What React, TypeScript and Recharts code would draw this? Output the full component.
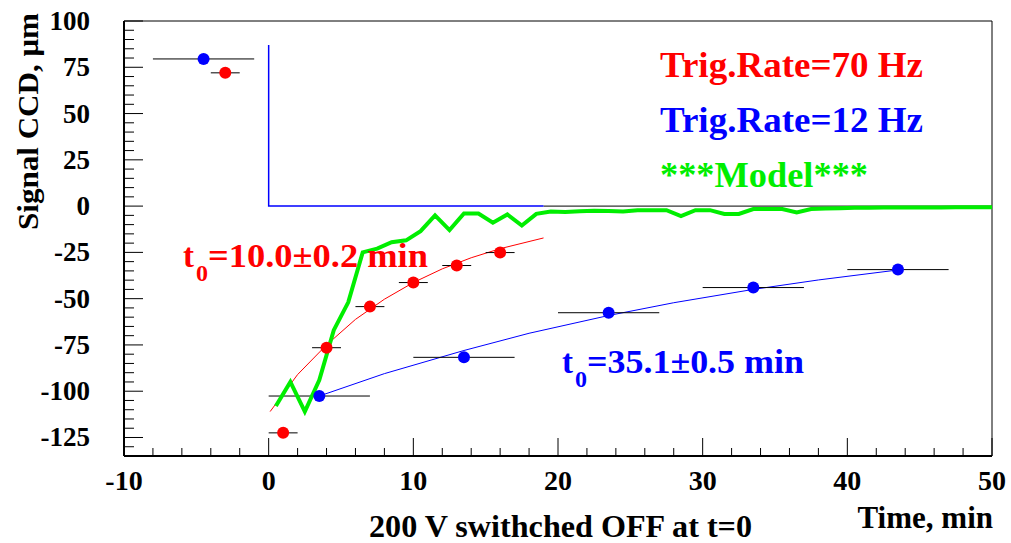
import { ComposedChart, XAxis, YAxis, Line, Scatter, ErrorBar, ReferenceArea } from 'recharts'

// measured points, 70 Hz trigger rate
const redTime = [-3, 1, 4, 7, 10, 13, 16]
const redSignal = [72, -122.5, -76.5, -54.3, -41.3, -32.1, -25.1]
const redTimeErr = [1, 1, 1, 1, 1, 1, 1]

// measured points, 12 Hz trigger rate
const blueTime = [-4.5, 3.5, 13.5, 23.5, 33.5, 43.5]
const blueSignal = [79.5, -102.6, -81.7, -57.6, -44, -34.3]
const blueTimeErr = [3.5, 3.5, 3.5, 3.5, 3.5, 3.5]

// exponential fits
const redFitTime = [0.1, 2, 4, 6, 8, 10, 12, 14, 16, 19]
const redFitSignal = [-111, -91, -75, -61.2, -50.3, -41.3, -33.9, -27.9, -23, -17.2]
const blueFitTime = [3.5, 8, 13.5, 18, 23.5, 28, 33.5, 38, 43.5]
const blueFitSignal = [-102.6, -90.5, -78, -68.7, -59.1, -52.2, -45, -39.9, -34.5]

// model curve
const modelTime = [
  0.5, 1.5, 2.5, 3.5, 4.5, 5.5, 6.5, 7.5, 8.5, 9.5, 10.5, 11.5, 12.5, 13.5, 14.5, 15.5, 16.5,
  17.5, 18.5, 19.5, 20.5, 21.5, 22.5, 23.5, 24.5, 25.5, 26.5, 27.5, 28.5, 29.5, 30.5, 31.5,
  32.5, 33.5, 34.5, 35.5, 36.5, 37.5, 38.5, 39.5, 40.5, 41.5, 42.5, 43.5, 44.5, 45.5, 46.5,
  47.5, 48.5, 49.5, 50,
]
const modelSignal = [
  -108, -95, -111, -94, -67, -52, -25, -23, -19.5, -18.5, -13.5, -5, -13, -4, -4, -9, -4.5,
  -10.5, -4.2, -2.9, -3.2, -2.8, -2.5, -2.6, -2.9, -2.3, -2.2, -2.2, -5.4, -2.2, -2.2, -4.2,
  -4.2, -1.6, -1.6, -1.6, -3.4, -1.6, -1.3, -1.1, -0.9, -0.9, -0.8, -0.8, -0.8, -0.7, -0.7,
  -0.6, -0.6, -0.6, -0.6,
]

// voltage step and zero level
const stepTime = [0, 0, 19]
const stepSignal = [87, 0, 0]
const zeroTime = [19, 50]
const zeroSignal = [0, 0]

const xTicks = [-10, -8, -6, -4, -2, 0, 2, 4, 6, 8, 10, 12, 14, 16, 18, 20, 22, 24, 26, 28, 30, 32, 34, 36, 38, 40, 42, 44, 46, 48, 50]
const yTicks = [-130, -125, -120, -115, -110, -105, -100, -95, -90, -85, -80, -75, -70, -65, -60, -55, -50, -45, -40, -35, -30, -25, -20, -15, -10, -5, 0, 5, 10, 15, 20, 25, 30, 35, 40, 45, 50, 55, 60, 65, 70, 75, 80, 85, 90, 95, 100]

const pts = (xs: number[], ys: number[]) => xs.map((x, i) => ({ x, y: ys[i] }))
const redData = redTime.map((x, i) => ({ x, y: redSignal[i], xe: redTimeErr[i] }))
const blueData = blueTime.map((x, i) => ({ x, y: blueSignal[i], xe: blueTimeErr[i] }))

const FONT = '"Liberation Serif", "Times New Roman", serif'
const txt = { fontFamily: FONT, fontWeight: 700 }
const RED = '#ff0000'
const BLUE = '#0000ff'
const GREEN = '#00ee00'

function XTick({ x, y, payload }: any) {
  const v = payload.value
  const major = v % 10 === 0
  return (
    <g>
      <line x1={x} x2={x} y1={y} y2={y - (major ? 18 : 8)} stroke="#000" strokeWidth={1} />
      {major && (
        <text x={x} y={y + 34} textAnchor="middle" style={{ ...txt, fontSize: 28 }} fill="#000">
          {v}
        </text>
      )}
    </g>
  )
}

function YTick({ x, y, payload }: any) {
  const v = payload.value
  const major = v % 25 === 0
  return (
    <g>
      <line x1={x} x2={x + (major ? 19 : 10)} y1={y} y2={y} stroke="#000" strokeWidth={1} />
      {major && (
        <text x={x - 34} y={y + 9} textAnchor="end" style={{ ...txt, fontSize: 27 }} fill="#000">
          {v}
        </text>
      )}
    </g>
  )
}

const dot = (color: string) => (p: any) => <circle cx={p.cx} cy={p.cy} r={6} fill={color} />

export default function App() {
  return (
    <div style={{ position: 'absolute', left: 0, top: 0, width: 1011, height: 543, background: '#fff' }}>
      <ComposedChart width={1011} height={543} margin={{ top: 21, right: 19, bottom: 0, left: 0 }}>
        <XAxis
          type="number"
          dataKey="x"
          domain={[-10, 50]}
          ticks={xTicks}
          interval={0}
          height={87}
          tickSize={0}
          tickMargin={0}
          tickLine={false}
          tick={<XTick />}
          axisLine={{ stroke: '#000', strokeWidth: 2 }}
          allowDataOverflow
        />
        <YAxis
          type="number"
          dataKey="y"
          domain={[-135, 100]}
          ticks={yTicks}
          interval={0}
          width={124}
          tickSize={0}
          tickMargin={0}
          tickLine={false}
          tick={<YTick />}
          axisLine={{ stroke: '#000', strokeWidth: 2 }}
          allowDataOverflow
        />
        <ReferenceArea x1={-10} x2={50} y1={-135} y2={100} fill="none" stroke="#000" strokeWidth={1} />
        <Line data={pts(zeroTime, zeroSignal)} dataKey="y" stroke="#000" strokeWidth={1} dot={false} isAnimationActive={false} />
        <Line data={pts(stepTime, stepSignal)} dataKey="y" stroke={BLUE} strokeWidth={1.5} dot={false} isAnimationActive={false} />
        <Line data={pts(redFitTime, redFitSignal)} dataKey="y" stroke={RED} strokeWidth={1} dot={false} isAnimationActive={false} />
        <Line data={pts(blueFitTime, blueFitSignal)} dataKey="y" stroke={BLUE} strokeWidth={1} dot={false} isAnimationActive={false} />
        <Scatter data={redData} dataKey="y" shape={dot(RED)} isAnimationActive={false}>
          <ErrorBar dataKey="xe" direction="x" width={0} stroke="#000" strokeWidth={1} isAnimationActive={false} />
        </Scatter>
        <Scatter data={blueData} dataKey="y" shape={dot(BLUE)} isAnimationActive={false}>
          <ErrorBar dataKey="xe" direction="x" width={0} stroke="#000" strokeWidth={1} isAnimationActive={false} />
        </Scatter>
        <Line data={pts(modelTime, modelSignal)} dataKey="y" stroke={GREEN} strokeWidth={4} dot={false} isAnimationActive={false} />
      </ComposedChart>
      <svg width={1011} height={543} style={{ position: 'absolute', left: 0, top: 0, pointerEvents: 'none' }}>
        <text style={{ ...txt, fontSize: 36 }} fill={RED} x={660} y={77} textLength={263} lengthAdjust="spacingAndGlyphs">Trig.Rate=70 Hz</text>
        <text style={{ ...txt, fontSize: 36 }} fill={BLUE} x={660} y={132} textLength={263} lengthAdjust="spacingAndGlyphs">Trig.Rate=12 Hz</text>
        <text style={{ ...txt, fontSize: 36 }} fill={GREEN} x={660} y={187} textLength={208} lengthAdjust="spacingAndGlyphs">***Model***</text>

        <text style={{ ...txt, fontSize: 33 }} fill={RED}>
          <tspan x={183} y={267}>t</tspan>
          <tspan x={196} y={281} style={{ fontSize: 24 }}>0</tspan>
          <tspan x={208} y={267} textLength={220} lengthAdjust="spacingAndGlyphs">=10.0±0.2 min</tspan>
        </text>
        <text style={{ ...txt, fontSize: 33 }} fill={BLUE}>
          <tspan x={562} y={373}>t</tspan>
          <tspan x={575} y={387} style={{ fontSize: 24 }}>0</tspan>
          <tspan x={587} y={373} textLength={217} lengthAdjust="spacingAndGlyphs">=35.1±0.5 min</tspan>
        </text>

        <text style={{ ...txt, fontSize: 30 }} fill="#000" transform="translate(38,121.5) rotate(-90)" textAnchor="middle" textLength={217} lengthAdjust="spacingAndGlyphs">
          Signal CCD, μm
        </text>
        <text style={{ ...txt, fontSize: 31 }} fill="#000" x={993} y={528} textAnchor="end">Time, min</text>
        <text style={{ ...txt, fontSize: 32 }} fill="#000" x={369} y={537} textLength={383} lengthAdjust="spacingAndGlyphs">200 V swithched OFF at t=0</text>
      </svg>
    </div>
  )
}
